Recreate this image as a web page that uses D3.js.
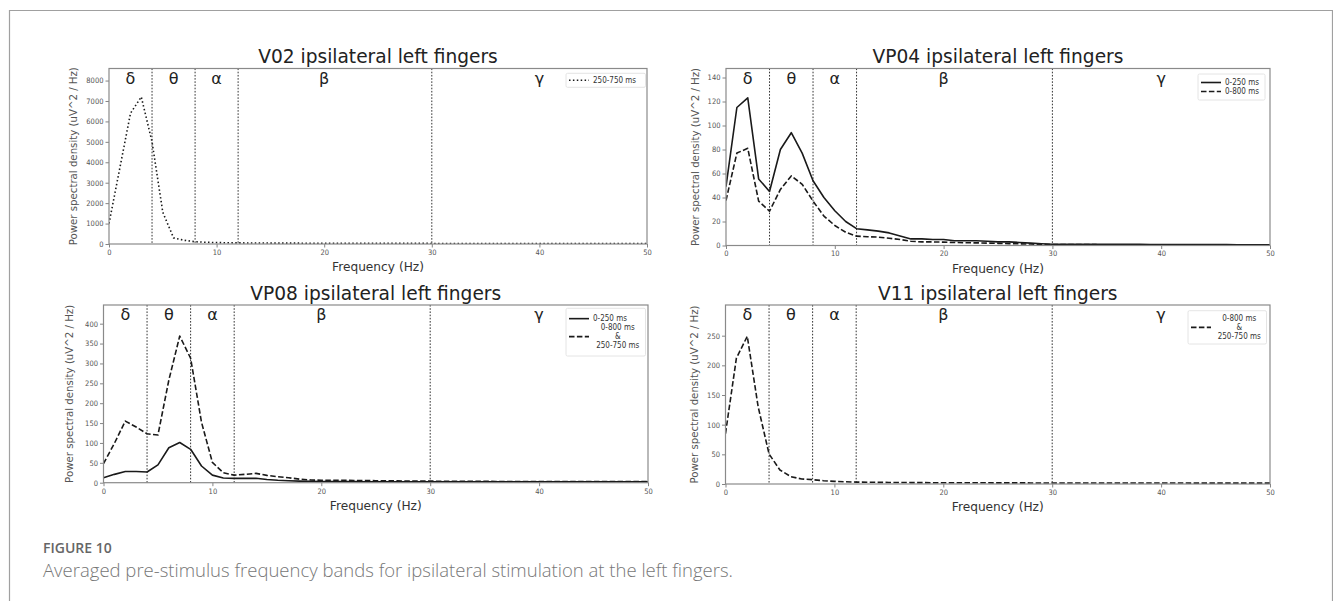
<!DOCTYPE html>
<html>
<head>
<meta charset="utf-8">
<script src="https://cdn.jsdelivr.net/npm/d3@7"></script>
<style>
  body { margin: 0; background: #fff; }
  svg { display: block; }
</style>
</head>
<body>
<svg id="fig" width="1333" height="601"></svg>
<script>
// Frequency bins (Hz) shared by every spectrum
const freqHz = [0,1,2,3,4,5,6,7,8,9,10,11,12,13,14,15,16,17,18,19,20,21,22,23,24,25,
  26,27,28,29,30,31,32,33,34,35,36,37,38,39,40,41,42,43,44,45,46,47,48,49,50];

// EEG band boundaries and band symbols
const bandEdges = [4, 8, 12, 30];
const bandNames = ["δ", "θ", "α", "β", "γ"];
const bandCentres = [2, 6, 10, 20, 40];
const xTicks = [0, 10, 20, 30, 40, 50];

// Power spectral density (uV^2 / Hz) per participant and time window
const v02_250_750 = [1000,3700,6400,7200,5000,1550,300,180,110,85,70,60,55,50,48,45,43,42,40,38,
  37,36,35,34,33,32,31,30,30,29,28,28,27,27,26,26,25,25,24,24,23,23,22,22,21,21,20,20,20,19,19];
const vp04_0_250 = [49,115,123,55.5,45,80,94,77,54,40,29,20,14,13,12,10.5,8,5.5,5.5,5,5,4,4,4,3.5,3,
  3,2.5,2,1.5,1,1,1,1,1,1,0.9,0.9,0.9,0.8,0.8,0.8,0.8,0.7,0.7,0.7,0.7,0.6,0.6,0.6,0.6];
const vp04_0_800 = [37.5,77,81,37,28.6,46.7,58,51,37,24.5,16.7,11,7.8,7.3,7,6,5,3.5,3,3,2.8,2.5,2.3,
  2.2,2,1.8,1.6,1.4,1.2,1,0.8,0.8,0.7,0.7,0.7,0.6,0.6,0.6,0.6,0.6,0.5,0.5,0.5,0.5,0.5,0.5,0.5,0.5,0.5,0.5,0.5];
const vp08_0_250 = [12.6,21,28,28,27,45,88,101,84,42,19,12,11,11,11,8,6,5,4,3.5,3,3,2.8,2.6,2.5,2.4,
  2.3,2.2,2.1,2,2,2,2,2,2,2,2,2,2,2,2,2,2,2,2,2,2,2,2,2,2];
const vp08_0_800_250_750 = [48,99,155,140,123,120,258,369,313,152,51,25,19,21,23.5,18.5,15,12.5,9,7,6,
  6,6,5.5,5.5,5,4.5,4.5,4,4,4,3.5,3.5,3.5,3.5,3.5,3.2,3.2,3.2,3.2,3,3,3,3,3,3,3,3,3,3,3];
const v11_0_800_250_750 = [85,212,249,130,50.5,23.6,12.4,8.4,7.3,5.6,4.5,3.8,3.2,3,2.8,2.6,2.5,2.4,2.3,
  2.2,2.1,2,2,2,2,1.9,1.9,1.9,1.8,1.8,1.8,1.8,1.7,1.7,1.7,1.7,1.7,1.6,1.6,1.6,1.6,1.6,1.6,1.5,1.5,1.5,1.5,1.5,1.5,1.5,1.5];

// Y tick values per panel
const yTicksV02 = [0,1000,2000,3000,4000,5000,6000,7000,8000];
const yTicksVP04 = [0,20,40,60,80,100,120,140];
const yTicksVP08 = [0,50,100,150,200,250,300,350,400];
const yTicksV11 = [0,50,100,150,200,250];

// Line styles (matplotlib-like ':', '-', '--')
const styles = {
  dotted: { dash: "1.5,2.4", width: 1.6 },
  solid:  { dash: null, width: 1.6 },
  dashed: { dash: "5.5,2.4", width: 1.6 }
};

const panels = [
  {
    title: "V02 ipsilateral left fingers",
    box: { left: 109, right: 647, top: 68.5, bottom: 244 }, yMax: 8590, yTicks: yTicksV02,
    yLabelX: 73.5,
    series: [{ values: v02_250_750, style: "dotted", label: ["250-750 ms"] }],
    legend: { x0: 566, x1: 645.5, y0: 73.3, y1: 87.3 }
  },
  {
    title: "VP04 ipsilateral left fingers",
    box: { left: 726, right: 1270, top: 68.5, bottom: 245.5 }, yMax: 147.5, yTicks: yTicksVP04,
    yLabelX: 695.5,
    series: [
      { values: vp04_0_250, style: "solid", label: ["0-250 ms"] },
      { values: vp04_0_800, style: "dashed", label: ["0-800 ms"] }
    ],
    legend: { x0: 1198, x1: 1265, y0: 74, y1: 100 }
  },
  {
    title: "VP08 ipsilateral left fingers",
    box: { left: 103.5, right: 648, top: 305, bottom: 482.7 }, yMax: 447, yTicks: yTicksVP08,
    yLabelX: 69.5,
    series: [
      { values: vp08_0_250, style: "solid", label: ["0-250 ms"] },
      { values: vp08_0_800_250_750, style: "dashed", label: ["0-800 ms", "&", "250-750 ms"] }
    ],
    legend: { x0: 566, x1: 645.5, y0: 308.3, y1: 356 }
  },
  {
    title: "V11 ipsilateral left fingers",
    box: { left: 725.5, right: 1270, top: 305, bottom: 484 }, yMax: 301.7, yTicks: yTicksV11,
    yLabelX: 694,
    series: [
      { values: v11_0_800_250_750, style: "dashed", label: ["0-800 ms", "&", "250-750 ms"] }
    ],
    legend: { x0: 1188, x1: 1266.5, y0: 310.7, y1: 344 }
  }
];

const svg = d3.select("#fig");
const FONT = "'DejaVu Sans', sans-serif";

// Page frame
svg.append("path")
  .attr("d", "M9.5,601 V10.5 H1332.5 V601")
  .attr("fill", "none").attr("stroke", "#a0a0a0").attr("stroke-width", 1.2);

panels.forEach((p, i) => {
  const b = p.box;
  const g = svg.append("g");
  const x = d3.scaleLinear().domain([0, 50]).range([b.left, b.right]);
  const y = d3.scaleLinear().domain([0, p.yMax]).range([b.bottom, b.top]);

  const clipId = "clip" + i;
  svg.append("clipPath").attr("id", clipId)
    .append("rect").attr("x", b.left).attr("y", b.top)
    .attr("width", b.right - b.left).attr("height", b.bottom - b.top);

  // Axes
  const xAxis = d3.axisBottom(x).tickValues(xTicks).tickSize(3.5).tickPadding(2).tickFormat(d3.format("d"));
  const yAxis = d3.axisLeft(y).tickValues(p.yTicks).tickSize(3.5).tickPadding(2).tickFormat(d3.format("d"));
  const gx = g.append("g").attr("transform", `translate(0,${b.bottom})`).call(xAxis);
  const gy = g.append("g").attr("transform", `translate(${b.left},0)`).call(yAxis);
  [gx, gy].forEach(ax => {
    ax.select(".domain").remove();
    ax.selectAll(".tick line").attr("stroke", "#777").attr("stroke-width", 0.9);
    ax.selectAll(".tick text").attr("fill", "#555").style("font-family", FONT)
      .style("font-size", "7.5px").style("font-stretch", "condensed");
  });

  // Band separators
  g.append("g").selectAll("line").data(bandEdges).join("line")
    .attr("x1", d => x(d)).attr("x2", d => x(d))
    .attr("y1", b.top).attr("y2", b.bottom)
    .attr("stroke", "#333").attr("stroke-width", 1).attr("stroke-dasharray", "1.6,1.6");

  // Band symbols
  g.append("g").selectAll("text").data(bandNames).join("text")
    .attr("x", (d, k) => x(bandCentres[k]))
    .attr("y", b.top + 15)
    .attr("text-anchor", "middle")
    .style("font-family", FONT).style("font-size", "16px").attr("fill", "#222")
    .text(d => d);

  // Spectra
  const line = d3.line().x((d, k) => x(freqHz[k])).y(d => y(d));
  g.append("g").attr("clip-path", `url(#${clipId})`)
    .selectAll("path").data(p.series).join("path")
    .attr("d", s => line(s.values))
    .attr("fill", "none").attr("stroke", "#1a1a1a")
    .attr("stroke-width", s => styles[s.style].width)
    .attr("stroke-dasharray", s => styles[s.style].dash)
    .attr("stroke-linejoin", "round");

  // Axes frame
  g.append("rect")
    .attr("x", b.left).attr("y", b.top)
    .attr("width", b.right - b.left).attr("height", b.bottom - b.top)
    .attr("fill", "none").attr("stroke", "#8a8a8a").attr("stroke-width", 1.2);

  // Title
  g.append("text")
    .attr("x", (b.left + b.right) / 2).attr("y", b.top - 5.5)
    .attr("text-anchor", "middle")
    .style("font-family", FONT).style("font-size", "18.6px").attr("fill", "#222")
    .text(p.title);

  // Axis labels
  g.append("text")
    .attr("x", (b.left + b.right) / 2).attr("y", b.bottom + 27)
    .attr("text-anchor", "middle")
    .style("font-family", FONT).style("font-size", "12.2px").attr("fill", "#333")
    .text("Frequency (Hz)");
  g.append("text")
    .attr("transform", `translate(${p.yLabelX},${(b.top + b.bottom) / 2}) rotate(-90)`)
    .attr("text-anchor", "middle").attr("dominant-baseline", "central")
    .style("font-family", FONT).style("font-size", "10.2px").attr("fill", "#555")
    .text("Power spectral density (uV^2 / Hz)");

  // Legend
  const L = p.legend;
  const lg = g.append("g");
  lg.append("rect")
    .attr("x", L.x0).attr("y", L.y0).attr("width", L.x1 - L.x0).attr("height", L.y1 - L.y0)
    .attr("rx", 1.5).attr("fill", "#fff").attr("stroke", "#ddd").attr("stroke-width", 0.8);
  const lineH = 9;
  const totalLines = d3.sum(p.series, s => s.label.length);
  let cursor = (L.y0 + L.y1) / 2 - (totalLines * lineH) / 2;
  p.series.forEach(s => {
    const n = s.label.length;
    const mid = cursor + (n * lineH) / 2;
    lg.append("line")
      .attr("x1", L.x0 + 3).attr("x2", L.x0 + 23).attr("y1", mid).attr("y2", mid)
      .attr("stroke", "#1a1a1a").attr("stroke-width", styles[s.style].width)
      .attr("stroke-dasharray", styles[s.style].dash);
    const multi = n > 1;
    const textX = multi ? (L.x0 + 27 + L.x1 - 3) / 2 : L.x0 + 27;
    s.label.forEach((t, k) => {
      lg.append("text")
        .attr("x", textX).attr("y", cursor + lineH * k + lineH / 2)
        .attr("dominant-baseline", "central")
        .attr("text-anchor", multi ? "middle" : "start")
        .style("font-family", FONT).style("font-size", "8px").style("font-stretch", "condensed")
        .attr("fill", "#333")
        .text(t);
    });
    cursor += n * lineH;
  });
});

// Caption
svg.append("text")
  .attr("x", 43).attr("y", 552.5)
  .style("font-family", "'Open Sans', sans-serif").style("font-weight", 600)
  .style("font-size", "14px").attr("fill", "#666")
  .text("FIGURE 10");
svg.append("text")
  .attr("x", 43).attr("y", 577)
  .style("font-family", "'Open Sans', sans-serif").style("font-weight", 300)
  .style("font-size", "18.5px").attr("fill", "#777")
  .text("Averaged pre-stimulus frequency bands for ipsilateral stimulation at the left fingers.");
</script>
</body>
</html>
